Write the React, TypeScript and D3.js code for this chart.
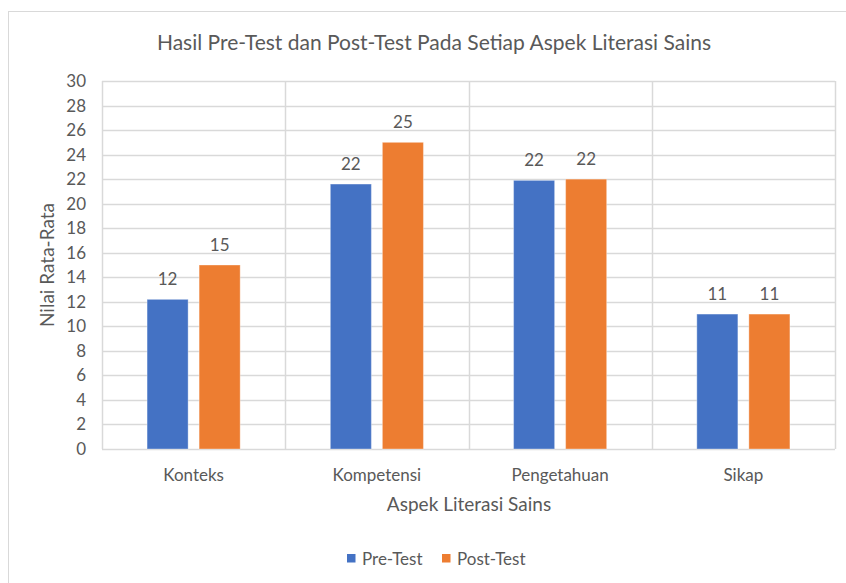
import React from 'react';
import * as d3 from 'd3';

const categories = ['Konteks', 'Kompetensi', 'Pengetahuan', 'Sikap'];
const preTest = [12.2, 21.6, 21.9, 11];
const postTest = [15, 25, 22, 11];
const labelsPre = ['12', '22', '22', '11'];
const labelsPost = ['15', '25', '22', '11'];
const yTicks = [0, 2, 4, 6, 8, 10, 12, 14, 16, 18, 20, 22, 24, 26, 28, 30];

const series = [
  { name: 'Pre-Test', values: preTest, labels: labelsPre, color: '#4472C4' },
  { name: 'Post-Test', values: postTest, labels: labelsPost, color: '#ED7D31' },
];

const W = 846;
const H = 583;
const plot = { left: 102, right: 835, top: 81, bottom: 449 };
const font = 'Lato, "Open Sans", sans-serif';
const textColor = '#595959';
const gridColor = '#d9d9d9';

const App = () => {
  const x = d3.scaleBand().domain(categories).range([plot.left, plot.right]);
  const y = d3.scaleLinear().domain([0, 30]).range([plot.bottom, plot.top]);

  const bw = x.bandwidth();
  const barW = bw * 0.224;
  const gap = bw * 0.06;
  const groupW = barW * 2 + gap;

  return (
    <svg width={W} height={H} style={{ position: 'absolute', left: 0, top: 0, background: '#fff' }}>
      <rect x={8.5} y={11.5} width={W} height={H} fill="#fff" stroke={gridColor} />

      <text x={434} y={50} textAnchor="middle" fontFamily={font} fontSize={21} fill={textColor}>
        Hasil Pre-Test dan Post-Test Pada Setiap Aspek Literasi Sains
      </text>

      {/* horizontal gridlines */}
      {yTicks.map(t => (
        <line key={t} x1={plot.left} x2={plot.right} y1={Math.round(y(t)) + 0.5} y2={Math.round(y(t)) + 0.5}
          stroke={gridColor} strokeWidth={1.5} />
      ))}
      {/* vertical gridlines at category edges */}
      {categories.map(c => (
        <line key={c} x1={Math.round(x(c)!) + 0.5} x2={Math.round(x(c)!) + 0.5} y1={plot.top} y2={plot.bottom}
          stroke={gridColor} strokeWidth={1.5} />
      ))}
      <line x1={plot.right + 0.5} x2={plot.right + 0.5} y1={plot.top} y2={plot.bottom} stroke={gridColor} strokeWidth={1.5} />

      {yTicks.map(t => (
        <text key={t} x={plot.left - 16} y={y(t) + 6} textAnchor="end" fontFamily={font} fontSize={17} fill={textColor}>
          {t}
        </text>
      ))}

      {series.map((s, si) => (
        <g key={s.name}>
          {categories.map((c, i) => {
            const bx = x(c)! + (bw - groupW) / 2 + si * (barW + gap);
            return (
              <g key={c}>
                <rect x={bx} y={y(s.values[i])} width={barW} height={y(0) - y(s.values[i])}
                  fill={s.color} stroke="#ffffff" strokeOpacity={0.35} strokeWidth={1} />
                <text x={bx + barW / 2} y={y(s.values[i]) - 14} textAnchor="middle" fontFamily={font} fontSize={17} fill={textColor}>
                  {s.labels[i]}
                </text>
              </g>
            );
          })}
        </g>
      ))}

      {categories.map(c => (
        <text key={c} x={x(c)! + bw / 2} y={481} textAnchor="middle" fontFamily={font} fontSize={17} fill={textColor}>
          {c}
        </text>
      ))}

      <text x={469} y={511} textAnchor="middle" fontFamily={font} fontSize={19} fill={textColor}>
        Aspek Literasi Sains
      </text>
      <text transform={`translate(54, 265) rotate(-90)`} textAnchor="middle" fontFamily={font} fontSize={19} fill={textColor}>
        Nilai Rata-Rata
      </text>

      {/* legend */}
      <g>
        <rect x={347} y={554} width={8.5} height={8.5} fill={series[0].color} />
        <text x={362} y={564.5} fontFamily={font} fontSize={17} fill={textColor}>{series[0].name}</text>
        <rect x={442} y={554} width={8.5} height={8.5} fill={series[1].color} />
        <text x={457} y={564.5} fontFamily={font} fontSize={17} fill={textColor}>{series[1].name}</text>
      </g>
    </svg>
  );
};

export default App;
